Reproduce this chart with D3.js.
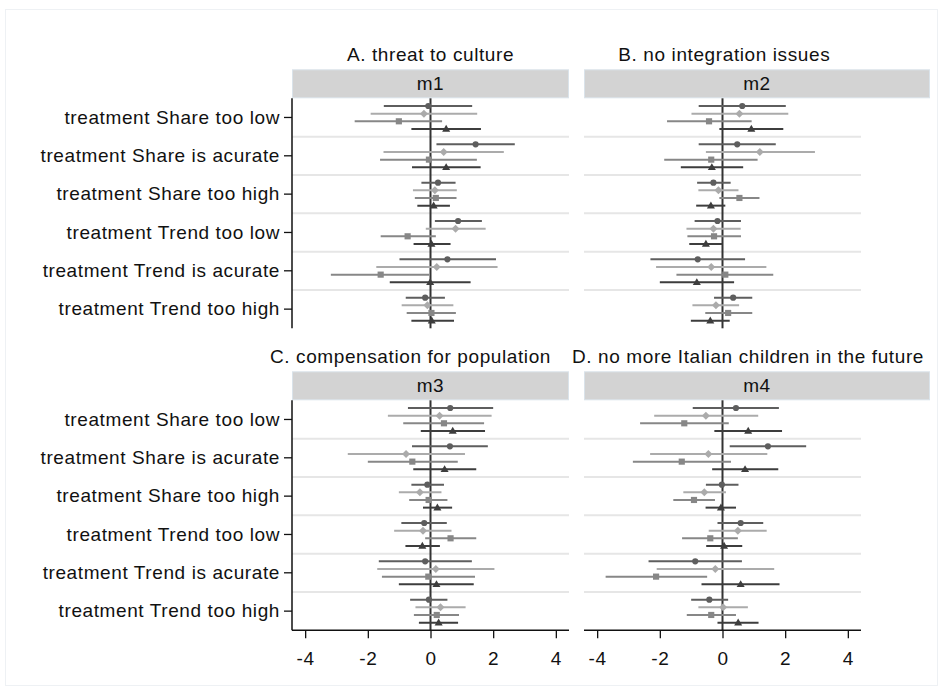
<!DOCTYPE html>
<html>
<head>
<meta charset="utf-8">
<script src="https://cdn.jsdelivr.net/npm/d3@7"></script>
<style>
  html, body { margin: 0; padding: 0; background: #ffffff; }
  svg text { font-family: "Liberation Sans", Arial, sans-serif; font-size: 19px; letter-spacing: 0.6px; fill: #111; }
</style>
</head>
<body>
<svg id="chart" width="943" height="691"></svg>
<script>
// ---------------- data ----------------
const categories = [
  "treatment Share too low",
  "treatment Share is acurate",
  "treatment Share too high",
  "treatment Trend too low",
  "treatment Trend is acurate",
  "treatment Trend too high"
];
const panelTitles = ["A. threat to culture", "B. no integration issues",
  "C. compensation for population", "D. no more Italian children in the future"];
const stripLabels = ["m1", "m2", "m3", "m4"];
const seriesNames = ["series 1", "series 2", "series 3", "series 4"];
const xTicks = [-4, -2, 0, 2, 4];

// point estimates / lower / upper bounds: rows = categories, columns = series
const estA = [[-0.07,-0.21,-1.01,0.50],[1.44,0.42,-0.05,0.50],[0.24,0.14,0.17,0.10],[0.88,0.80,-0.73,0.03],[0.54,0.20,-1.59,-0.01],[-0.17,-0.10,0.03,0.04]];
const lowA = [[-1.49,-1.91,-2.42,-0.61],[0.19,-1.50,-1.61,-0.59],[-0.29,-0.56,-0.50,-0.42],[0.14,-0.15,-1.59,-0.54],[-0.99,-1.73,-3.18,-1.30],[-0.79,-0.92,-0.76,-0.61]];
const highA = [[1.33,1.49,0.37,1.61],[2.69,2.34,1.48,1.60],[0.80,0.84,0.83,0.62],[1.64,1.76,0.17,0.64],[2.09,2.14,-0.04,1.28],[0.46,0.73,0.81,0.75]];

const estB = [[0.63,0.54,-0.43,0.92],[0.47,1.19,-0.36,-0.34],[-0.29,-0.13,0.54,-0.37],[-0.16,-0.29,-0.27,-0.53],[-0.79,-0.36,0.09,-0.82],[0.34,-0.21,0.18,-0.39]];
const lowB = [[-0.76,-0.99,-1.77,-0.10],[-0.76,-0.53,-1.86,-1.33],[-0.81,-0.77,-0.10,-0.84],[-0.89,-1.15,-1.12,-1.06],[-2.30,-2.12,-1.47,-2.00],[-0.27,-0.96,-0.55,-1.01]];
const highB = [[2.02,2.10,0.93,1.94],[1.70,2.95,1.12,0.66],[0.26,0.51,1.18,0.09],[0.59,0.58,0.59,0.00],[0.72,1.40,1.62,0.37],[0.95,0.53,0.95,0.23]];

const estC = [[0.63,0.29,0.43,0.71],[0.62,-0.78,-0.58,0.45],[-0.10,-0.34,-0.06,0.22],[-0.20,-0.24,0.64,-0.26],[-0.17,0.17,-0.07,0.19],[-0.05,0.32,0.20,0.26]];
const lowC = [[-0.72,-1.36,-0.87,-0.31],[-0.59,-2.64,-2.00,-0.55],[-0.61,-1.01,-0.68,-0.24],[-0.93,-1.16,-0.17,-0.80],[-1.65,-1.70,-1.55,-1.01],[-0.65,-0.48,-0.53,-0.37]];
const highC = [[2.00,1.95,1.71,1.74],[1.83,1.10,0.87,1.46],[0.43,0.35,0.54,0.69],[0.52,0.67,1.46,0.30],[1.32,2.04,1.42,1.38],[0.54,1.12,0.91,0.88]];

const estD = [[0.43,-0.53,-1.22,0.82],[1.45,-0.45,-1.30,0.72],[-0.02,-0.58,-0.91,-0.05],[0.58,0.49,-0.39,0.05],[-0.87,-0.23,-2.12,0.58],[-0.42,0.02,-0.36,0.50]];
const lowD = [[-0.95,-2.18,-2.63,-0.26],[0.23,-2.31,-2.86,-0.33],[-0.53,-1.25,-1.57,-0.54],[-0.16,-0.44,-1.29,-0.52],[-2.36,-2.10,-3.73,-0.67],[-1.00,-0.77,-1.14,-0.16]];
const highD = [[1.80,1.14,0.20,1.90],[2.67,1.43,0.27,1.78],[0.51,0.11,-0.24,0.43],[1.30,1.41,0.49,0.63],[0.62,1.65,-0.49,1.82],[0.18,0.81,0.43,1.15]];

// ---------------- layout / style ----------------
const seriesColors = ["#5e5e5e", "#ababab", "#878787", "#3d3d3d"];
const seriesShapes = ["circle", "diamond", "square", "triangle"];
const xDomain = [-4.42, 4.42];

const panels = [
  {est: estA, low: lowA, high: highA, col: 0, row: 0, titleX: 430.5},
  {est: estB, low: lowB, high: highB, col: 1, row: 0, titleX: 724.3},
  {est: estC, low: lowC, high: highC, col: 0, row: 1, titleX: 410.5},
  {est: estD, low: lowD, high: highD, col: 1, row: 1, titleX: 748}
];
const colGeom = [{x0: 292, x1: 569, stripX1: 569}, {x0: 584, x1: 861, stripX1: 930}];
const rowGeom = [{top: 98.3, bottom: 328.3, stripTop: 69.3, titleY: 60.7},
                 {top: 400.3, bottom: 630.3, stripTop: 371.3, titleY: 362.7}];

const svg = d3.select("#chart");

// outer frame
svg.append("rect").attr("x", 5.5).attr("y", 9.5).attr("width", 932).attr("height", 676)
  .attr("fill", "none").attr("stroke", "#eef1f4").attr("stroke-width", 1);

function symbolPath(shape) {
  if (shape === "circle") return d3.symbol(d3.symbolCircle, 30)();
  if (shape === "square") return d3.symbol(d3.symbolSquare, 38)();
  if (shape === "triangle") return d3.symbol(d3.symbolTriangle, 28)();
  // diamond: square rotated 45 deg
  const r = 4;
  return `M0,${-r}L${r},0L0,${r}L${-r},0Z`;
}

panels.forEach((p, pi) => {
  const cg = colGeom[p.col], rg = rowGeom[p.row];
  const g = svg.append("g");

  const x = d3.scaleLinear().domain(xDomain).range([cg.x0, cg.x1]);
  const y = d3.scaleBand().domain(categories).range([rg.top, rg.bottom]).paddingInner(0).paddingOuter(0);
  const ys = d3.scalePoint().domain(seriesNames).range([0, y.bandwidth()]).padding(1);

  // title
  g.append("text").attr("x", p.titleX).attr("y", rg.titleY).attr("text-anchor", "middle").text(panelTitles[pi]);

  // strip
  g.append("rect").attr("x", cg.x0 + 0.5).attr("y", rg.stripTop + 0.5)
    .attr("width", cg.stripX1 - cg.x0 - 1).attr("height", rg.top - rg.stripTop - 1)
    .attr("fill", "#d3d3d3").attr("stroke", "#dae3ea").attr("stroke-width", 1);
  g.append("text").attr("x", (cg.x0 + cg.stripX1) / 2).attr("y", rg.stripTop + 21)
    .attr("text-anchor", "middle").text(stripLabels[pi]);

  // separators between categories
  g.selectAll("line.sep").data(categories.slice(1)).enter().append("line")
    .attr("x1", cg.x0).attr("x2", cg.x1)
    .attr("y1", d => y(d)).attr("y2", d => y(d))
    .attr("stroke", "#e6e6e6").attr("stroke-width", 2);

  // zero line
  g.append("line").attr("x1", x(0)).attr("x2", x(0)).attr("y1", rg.top).attr("y2", rg.bottom)
    .attr("stroke", "#333").attr("stroke-width", 2);

  // CI + markers
  const rows = [];
  categories.forEach((c, ci) => seriesNames.forEach((s, si) => {
    rows.push({c, s, si, est: p.est[ci][si], lo: p.low[ci][si], hi: p.high[ci][si]});
  }));
  g.selectAll("line.ci").data(rows).enter().append("line")
    .attr("x1", d => x(d.lo)).attr("x2", d => x(d.hi))
    .attr("y1", d => y(d.c) + ys(d.s)).attr("y2", d => y(d.c) + ys(d.s))
    .attr("stroke", d => seriesColors[d.si]).attr("stroke-width", 2);
  g.selectAll("path.mk").data(rows).enter().append("path")
    .attr("d", d => symbolPath(seriesShapes[d.si]))
    .attr("transform", d => `translate(${x(d.est)},${y(d.c) + ys(d.s) + (d.si === 3 ? 0.5 : 0)})`)
    .attr("fill", d => seriesColors[d.si]);

  // left axis for left column
  if (p.col === 0) {
    const ax = g.append("g").attr("transform", `translate(${cg.x0},0)`)
      .call(d3.axisLeft(y).tickSize(8).tickPadding(4));
    ax.select(".domain").attr("stroke", "#111").attr("stroke-width", 1.5)
      .attr("d", `M0,${rg.top}V${rg.bottom}`);
    ax.selectAll(".tick line").attr("stroke", "#111").attr("stroke-width", 1.3);
    ax.selectAll(".tick text").attr("font-size", null).attr("font-family", null).attr("fill", "#111");
  }
  // bottom axis for bottom row
  if (p.row === 1) {
    const ax = g.append("g").attr("transform", `translate(0,${rg.bottom})`)
      .call(d3.axisBottom(x).tickValues(xTicks).tickSize(8).tickPadding(13).tickFormat(d3.format("d")));
    ax.select(".domain").attr("stroke", "#111").attr("stroke-width", 1.5)
      .attr("d", `M${cg.x0},0H${cg.x1}`);
    ax.selectAll(".tick line").attr("stroke", "#111").attr("stroke-width", 1.3);
    ax.selectAll(".tick text").attr("font-size", null).attr("font-family", null).attr("fill", "#111")
      .text(d => (d < 0 ? "-" : "") + Math.abs(d));
  }
});
</script>
</body>
</html>
